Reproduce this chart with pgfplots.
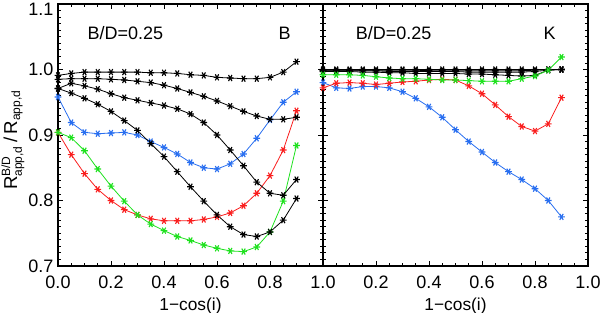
\documentclass[border=0pt]{standalone}
\usepackage{fontspec}
\setmainfont{Liberation Sans}
\usepackage{pgfplots}
\pgfplotsset{compat=1.18}
\definecolor{cblue}{RGB}{40,110,240}
\definecolor{cred}{RGB}{250,30,30}
\definecolor{cgreen}{RGB}{30,225,30}
\newcommand{\sm}[1]{\mbox{\fontsize{9}{10}\selectfont #1}}
\pgfplotsset{
 panel/.style={
  scale only axis, width=198.75pt, height=196.5pt,
  xmin=0, xmax=1, ymin=0.7, ymax=1.1,
  xtick={0,0.2,0.4,0.6,0.8,1.0}, minor x tick num=3,
  ytick={0.7,0.8,0.9,1.0,1.1}, minor y tick num=9,
  tick align=inside, major tick length=4pt, minor tick length=2pt,
  axis line style={line width=0.9pt},
  every tick/.style={black, line width=0.6pt},
  tick label style={font=\fontsize{13.5}{15}\selectfont},
  xticklabel style={yshift=-4pt},
  /pgf/number format/assume math mode=true,
  xlabel={1−cos(i)},
  xlabel style={font=\fontsize{13}{15}\selectfont, yshift=0pt},
  every axis plot/.append style={line width=0.6pt, mark=asterisk, mark size=2.6pt, mark options={rotate=90, solid, line width=0.85pt}},
  clip=false,
 }
}
\pgfplotstableread{
x A B C D bl rd gr
0.00 0.991 0.985 0.971 0.971 0.958 0.904 0.904
0.05 0.994 0.986 0.979 0.964 0.919 0.870 0.896
0.10 0.996 0.986 0.975 0.956 0.904 0.841 0.876
0.15 0.996 0.986 0.970 0.947 0.902 0.817 0.848
0.20 0.996 0.985 0.963 0.936 0.903 0.800 0.822
0.25 0.996 0.984 0.957 0.922 0.904 0.786 0.799
0.30 0.996 0.982 0.953 0.907 0.900 0.778 0.778
0.35 0.995 0.980 0.949 0.887 0.890 0.772 0.764
0.40 0.995 0.976 0.945 0.867 0.881 0.769 0.754
0.45 0.994 0.971 0.940 0.844 0.871 0.769 0.745
0.50 0.992 0.965 0.932 0.821 0.858 0.769 0.739
0.55 0.991 0.959 0.919 0.799 0.850 0.771 0.732
0.60 0.988 0.952 0.900 0.778 0.848 0.775 0.727
0.65 0.987 0.944 0.877 0.760 0.856 0.781 0.723
0.70 0.986 0.936 0.853 0.748 0.871 0.792 0.722
0.75 0.986 0.929 0.828 0.745 0.895 0.811 0.729
0.80 0.988 0.924 0.811 0.752 0.923 0.838 0.752
0.85 0.996 0.924 0.808 0.770 0.950 0.877 0.799
0.90 1.012 0.927 0.832 0.803 0.966 0.937 0.884
}\leftdata
\pgfplotstableread{
x A B C D bl rd gr
0.00 1.000 0.999 0.998 0.997 0.980 0.972 0.992
0.05 1.000 0.999 0.998 0.997 0.972 0.979 0.992
0.10 1.000 0.999 0.998 0.997 0.971 0.980 0.992
0.15 1.000 0.999 0.998 0.996 0.974 0.979 0.991
0.20 1.000 0.999 0.998 0.996 0.974 0.977 0.989
0.25 1.000 0.999 0.997 0.995 0.972 0.979 0.987
0.30 1.000 0.999 0.997 0.995 0.966 0.981 0.986
0.35 1.000 0.999 0.997 0.994 0.956 0.982 0.986
0.40 1.000 0.998 0.997 0.994 0.943 0.984 0.985
0.45 1.000 0.998 0.997 0.994 0.927 0.985 0.984
0.50 1.000 0.998 0.997 0.994 0.908 0.984 0.984
0.55 1.000 0.998 0.996 0.993 0.890 0.975 0.983
0.60 1.000 0.998 0.996 0.993 0.874 0.963 0.982
0.65 1.000 0.998 0.996 0.992 0.858 0.946 0.982
0.70 1.000 0.998 0.996 0.991 0.844 0.928 0.982
0.75 1.000 0.998 0.996 0.990 0.832 0.913 0.986
0.80 1.000 0.999 0.997 0.991 0.818 0.906 0.990
0.85 1.000 1.000 0.999 0.999 0.800 0.917 0.999
0.90 1.000 1.000 1.000 1.000 0.775 0.957 1.019
}\rightdata
\begin{document}
\begin{tikzpicture}
\begin{axis}[panel, at={(0,0)}, anchor=south west,
  xticklabels={0.0,0.2,0.4,0.6,0.8,},
  yticklabels={0.7,0.8,0.9,1.0,\raisebox{-4pt}[\height][\depth]{1.1}}]
\addplot[cblue] table[x=x,y=bl]{\leftdata};
\addplot[cred] table[x=x,y=rd]{\leftdata};
\addplot[cgreen] table[x=x,y=gr]{\leftdata};
\addplot[black] table[x=x,y=A]{\leftdata};
\addplot[black] table[x=x,y=B]{\leftdata};
\addplot[black] table[x=x,y=C]{\leftdata};
\addplot[black] table[x=x,y=D]{\leftdata};
\node[anchor=west, font=\fontsize{13.5}{15}\selectfont] at (axis cs:0.094,1.056) {B/D=0.25};
\node[anchor=west, font=\fontsize{13.5}{15}\selectfont] at (axis cs:0.815,1.056) {B};
\end{axis}
\begin{axis}[panel, at={(198.75pt,0)}, anchor=south west,
  xticklabels={1.0,0.2,0.4,0.6,0.8,1.0},
  yticklabels={}]
\addplot[cblue] table[x=x,y=bl]{\rightdata};
\addplot[cred] table[x=x,y=rd]{\rightdata};
\addplot[black] table[x=x,y=A]{\rightdata};
\addplot[black] table[x=x,y=B]{\rightdata};
\addplot[black] table[x=x,y=C]{\rightdata};
\addplot[black] table[x=x,y=D]{\rightdata};
\addplot[cgreen] table[x=x,y=gr]{\rightdata};
\node[anchor=west, font=\fontsize{13.5}{15}\selectfont] at (axis cs:0.106,1.056) {B/D=0.25};
\node[anchor=west, font=\fontsize{13.5}{15}\selectfont] at (axis cs:0.815,1.056) {K};
\end{axis}
\node[rotate=90, font=\fontsize{14}{16}\selectfont] at (-33.75pt,94.5pt)
 {R$^{\sm{B/D}}_{\sm{app,d}}$\,/\,R$_{\sm{app,d}}$};
\pgfresetboundingbox
\path (-43.5pt,-35.25pt) rectangle (406.5pt,199.5pt);
\end{tikzpicture}
\end{document}
